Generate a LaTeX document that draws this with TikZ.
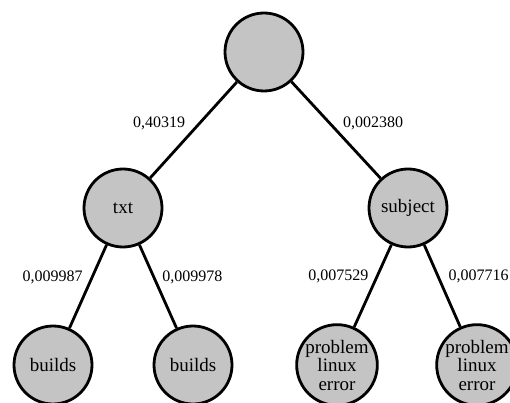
\documentclass[tikz,border=0pt]{standalone}
\usepackage{fontspec}
\setmainfont{Liberation Serif}
\usepackage{xcolor}
\usepackage{tikz}
\usetikzlibrary{positioning}
\definecolor{nodegray}{RGB}{196,196,196}

\begin{document}
\begin{tikzpicture}[
    on grid,
    node distance=156pt and 141pt,
    word/.style={circle, draw=black, fill=nodegray, line width=2.8pt, minimum size=78pt, inner sep=0pt, align=center, font=\fontsize{19}{18.5}\selectfont},
    edge/.style={line width=2.8pt, draw=black},
    weight/.style={inner sep=0pt, font=\fontsize{16}{19}\selectfont}
]
\useasboundingbox (0,0) rectangle (510pt,-403pt);

% Root and first level
\node[word] (root) at (264pt,-52pt) {};
\node[word, below left=156pt and 141pt of root] (txt) {txt};
\node[word, below right=156pt and 144pt of root] (subject) {subject};

% Leaves
\node[word, below left=157pt and 70pt of txt] (builds1) {builds};
\node[word, below right=157pt and 70pt of txt] (builds2) {builds};
\node[word, below left=157pt and 71pt of subject] (prob1) {problem\\linux\\error};
\node[word, below right=157pt and 69pt of subject] (prob2) {problem\\linux\\error};

% Edges with weights
\draw[edge] (root) -- node[weight, pos=0.43, left=13pt] {0,40319} (txt);
\draw[edge] (root) -- node[weight, pos=0.43, right=12pt] {0,002380} (subject);
\draw[edge] (txt) -- node[weight, pos=0.39, left=8pt] {0,009987} (builds1);
\draw[edge] (txt) -- node[weight, pos=0.39, right=7pt] {0,009978} (builds2);
\draw[edge] (subject) -- node[weight, pos=0.39, left=7pt] {0,007529} (prob1);
\draw[edge] (subject) -- node[weight, pos=0.39, right=9pt] {0,007716} (prob2);

\end{tikzpicture}
\end{document}
